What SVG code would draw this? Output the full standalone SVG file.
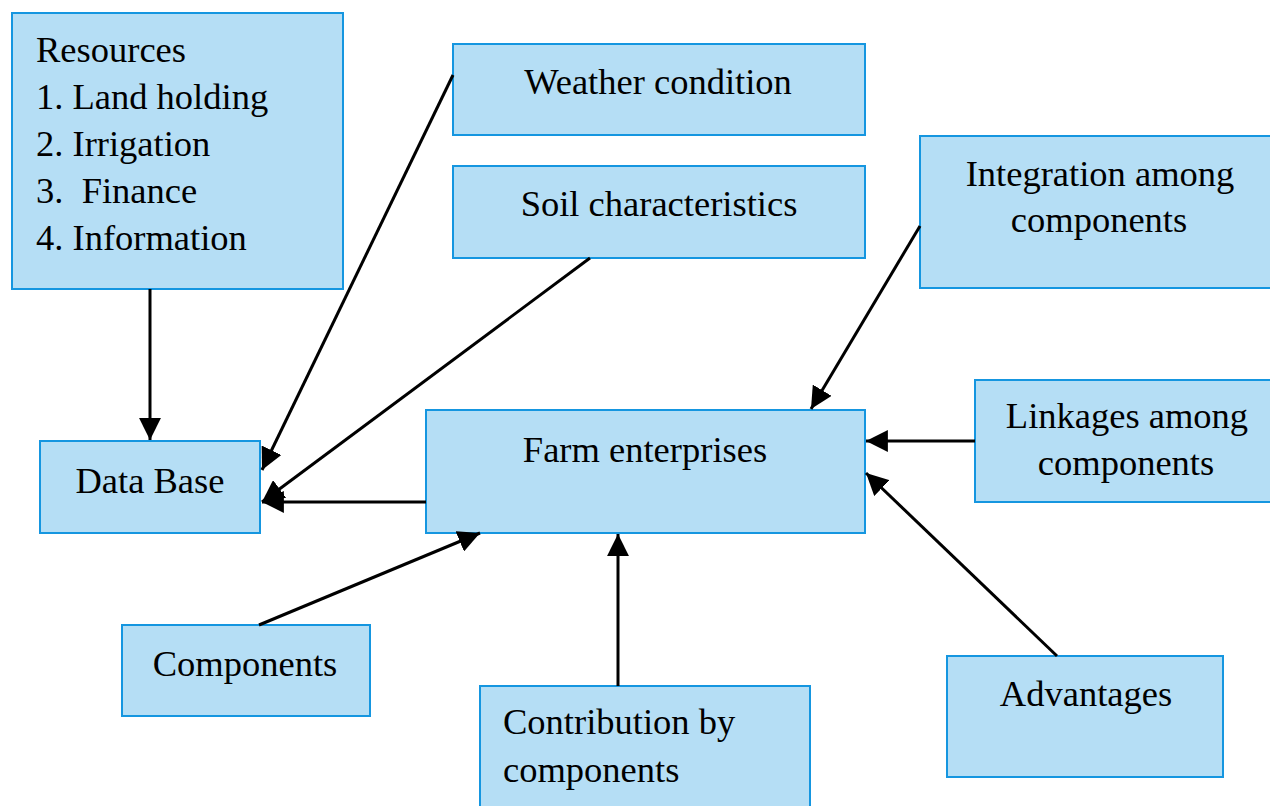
<svg xmlns="http://www.w3.org/2000/svg" width="1270" height="806" viewBox="0 0 1270 806">
<style>
.box{fill:#B5DEF5;stroke:#1596E0;stroke-width:2}
text{font-family:"Liberation Serif","Times New Roman",serif;font-size:36.5px;fill:#000}
.c{text-anchor:middle}
.edge{stroke:#000;stroke-width:3;fill:none;marker-end:url(#ah)}
</style>
<defs>
<marker id="ah" viewBox="0 0 7 7" refX="7" refY="3.5" markerWidth="7.3" markerHeight="7.3" orient="auto" markerUnits="strokeWidth">
<path d="M0,0 L7,3.5 L0,7 z" fill="#000"/>
</marker>
</defs>
<rect width="1270" height="806" fill="#fff"/>
<g id="resources"><rect class="box" x="12" y="13" width="331" height="276"/>
<text x="36" y="62">Resources</text>
<text x="36" y="109">1. Land holding</text>
<text x="36" y="156">2. Irrigation</text>
<text x="36" y="203" xml:space="preserve">3.  Finance</text>
<text x="36" y="250">4. Information</text></g>
<g id="weather"><rect class="box" x="453" y="44" width="412" height="91"/><text class="c" x="658" y="94">Weather condition</text></g>
<g id="soil"><rect class="box" x="453" y="166" width="412" height="92"/><text class="c" x="659" y="216">Soil characteristics</text></g>
<g id="integration"><rect class="box" x="920" y="136" width="352" height="152"/><text class="c" x="1100" y="186">Integration among</text><text class="c" x="1099" y="232">components</text></g>
<g id="database"><rect class="box" x="40" y="441" width="220" height="92"/><text class="c" x="150" y="493">Data Base</text></g>
<g id="farm"><rect class="box" x="426" y="410" width="439" height="123"/><text class="c" x="645" y="462">Farm enterprises</text></g>
<g id="linkages"><rect class="box" x="975" y="380" width="297" height="122"/><text class="c" x="1127" y="428">Linkages among</text><text class="c" x="1126" y="475">components</text></g>
<g id="components"><rect class="box" x="122" y="625" width="248" height="91"/><text class="c" x="245" y="676">Components</text></g>
<g id="contribution"><rect class="box" x="480" y="686" width="330" height="124"/><text x="503" y="734">Contribution by</text><text x="503" y="782">components</text></g>
<g id="advantages"><rect class="box" x="947" y="656" width="276" height="121"/><text class="c" x="1086" y="706">Advantages</text></g>
<g id="connectors">
<line class="edge" x1="150" y1="289" x2="150" y2="440"/>
<line class="edge" x1="453" y1="75" x2="262" y2="470"/>
<line class="edge" x1="590" y1="258" x2="262" y2="502"/>
<line class="edge" x1="426" y1="502" x2="262" y2="502"/>
<line class="edge" x1="920" y1="226" x2="811" y2="409"/>
<line class="edge" x1="975" y1="441" x2="866" y2="441"/>
<line class="edge" x1="1057" y1="656" x2="866" y2="473"/>
<line class="edge" x1="259" y1="625" x2="480" y2="533"/>
<line class="edge" x1="618" y1="686" x2="618" y2="534"/>
</g>
</svg>
